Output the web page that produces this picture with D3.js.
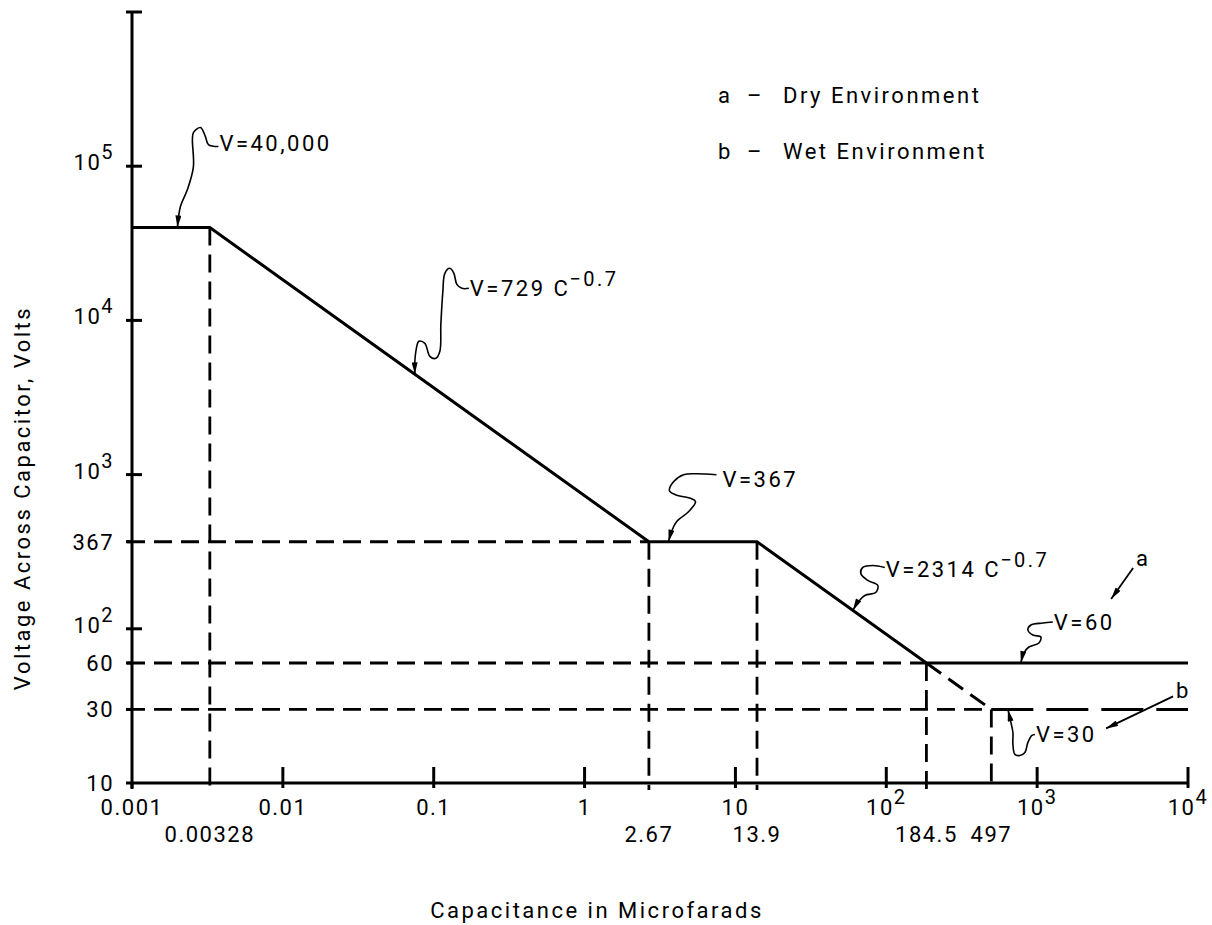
<!DOCTYPE html>
<html>
<head>
<meta charset="utf-8">
<script src="https://cdn.jsdelivr.net/npm/d3@7"></script>
<style>
  body { margin: 0; background: #fff; }
  text { font-family: Roboto, "Liberation Sans", sans-serif; font-weight: 400; fill: #000; letter-spacing: 2.5px; }
  .tick-label { letter-spacing: 1.5px; }
</style>
</head>
<body>
<div id="chart"></div>
<script>
// curve break points (capacitance in microfarads, voltage in volts)
var dryC = [0.001, 0.00328, 2.67, 13.9, 184.5, 10000];
var dryV = [40000, 40000, 367, 367, 60, 60];
var wetSlopeC = [184.5, 497];
var wetSlopeV = [60, 30];
var wetFlatC = [497, 10000];
var wetFlatV = [30, 30];

var breakC = [0.00328, 2.67, 13.9, 184.5, 497];
var breakV = [40000, 367, 367, 60, 30];
var breakLabels = ["0.00328", "2.67", "13.9", "184.5", "497"];

var levelV = [367, 60, 30];
var levelEndC = [2.67, 184.5, 497];
var levelLabels = ["367", "60", "30"];

var xDecades = [0.001, 0.01, 0.1, 1, 10, 100, 1000, 10000];
var xDecadeLabels = [["0.001"], ["0.01"], ["0.1"], ["1"], ["10"], ["10", "2"], ["10", "3"], ["10", "4"]];
var yDecades = [10, 100, 1000, 10000, 100000, 1000000];
var yDecadeLabels = [["10"], ["10", "2"], ["10", "3"], ["10", "4"], ["10", "5"], null];

var legendKeys = ["a", "b"];
var legendNames = ["Dry Environment", "Wet Environment"];

// leader notes: anchor point on the curve, text offset and squiggle offsets (px from anchor)
var notes = [
  { c: 0.002, v: 40000, text: "V=40,000", sup: null, tx: 42, ty: -77,
    path: [[41,-81],[31,-83],[28,-91],[23,-100],[16,-95],[15,-88],[16,-61],[10,-38],[3,-21],[0,0]] },
  { c: 0.075, v: 4470, text: "V=729 C", sup: "\u22120.7", tx: 55, ty: -78,
    path: [[54,-86],[47,-86],[42,-90],[39,-101],[35,-106],[30,-101],[28,-83],[26,-50],[25,-23],[21,-16],[15,-18],[10,-31],[4,-33],[1,-23],[0,-13],[0,0]] },
  { c: 3.6, v: 367, text: "V=367", sup: null, tx: 54, ty: -55,
    path: [[48,-67],[27,-68],[15,-67],[5,-60],[1,-51],[7,-47],[23,-43],[27,-40],[20,-30],[8,-20],[3,-10],[0,0]] },
  { c: 60, v: 131.5, text: "V=2314 C", sup: "\u22120.7", tx: 33, ty: -33,
    path: [[32,-43],[20,-45],[10,-43],[8,-37],[15,-30],[25,-25],[23,-18],[12,-15],[5,-8],[0,0]] },
  { c: 780, v: 60, text: "V=60", sup: null, tx: 33, ty: -33,
    path: [[32,-41],[22,-40],[10,-38],[7,-33],[12,-28],[20,-26],[18,-20],[8,-16],[3,-10],[0,0]] },
  { c: 640, v: 30, text: "V=30", sup: null, tx: 28, ty: 33,
    path: [[27,25],[24,26],[20,33],[17,43],[12,46],[7,45],[5,35],[5,23],[3,13],[0,0]] }
];
// straight arrows from the a / b letters
var keyArrows = [
  { c: 3000, v: 60, key: "a", tx: 27, ty: -97, path: [[24,-95],[2,-64]] },
  { c: 3000, v: 30, key: "b", tx: 67, ty: -11, path: [[64,-13],[-3,19]] }
];

var width = 1212, height = 925;

var svg = d3.select("#chart").append("svg")
  .attr("width", width)
  .attr("height", height);

svg.append("rect").attr("width", width).attr("height", height).attr("fill", "#fff");

var defs = svg.append("defs");
defs.append("marker")
  .attr("id", "arrow")
  .attr("viewBox", "0 0 12 6")
  .attr("refX", 12).attr("refY", 3)
  .attr("markerWidth", 13).attr("markerHeight", 6)
  .attr("markerUnits", "userSpaceOnUse")
  .attr("orient", "auto")
  .append("path").attr("d", "M0,0 L12,3 L0,6 Z").attr("fill", "#000");

var x = d3.scaleLog().domain([0.001, 10000]).range([132, 1188]);
var y = d3.scaleLog().domain([10, 1000000]).range([783, 12]);

var line = d3.line()
  .x(function(d) { return x(d[0]); })
  .y(function(d) { return y(d[1]); });

function pairs(cs, vs) {
  return cs.map(function(c, i) { return [c, vs[i]]; });
}

function addLabel(g, parts, px, py, anchor, size) {
  var t = g.append("text")
    .attr("class", "tick-label")
    .attr("x", px).attr("y", py)
    .attr("text-anchor", anchor)
    .style("font-size", size + "px");
  t.append("tspan").text(parts[0]);
  if (parts[1]) {
    t.append("tspan").attr("dy", -11).style("font-size", (size - 2) + "px").text(parts[1]);
  }
  return t;
}

// dashed guide lines
var guides = svg.append("g")
  .attr("stroke", "#000")
  .attr("stroke-width", 2.8)
  .attr("stroke-dasharray", "18,9")
  .attr("fill", "none");

guides.selectAll(".vguide")
  .data(breakC)
  .enter().append("line")
  .attr("class", "vguide")
  .attr("x1", function(d) { return x(d); })
  .attr("x2", function(d) { return x(d); })
  .attr("y1", function(d, i) { return y(breakV[i]); })
  .attr("y2", y(10) + 7);

guides.selectAll(".hguide")
  .data(levelV)
  .enter().append("line")
  .attr("class", "hguide")
  .attr("x1", x(0.001) - 5)
  .attr("x2", function(d, i) { return x(levelEndC[i]); })
  .attr("y1", function(d) { return y(d); })
  .attr("y2", function(d) { return y(d); });

// axes
var axes = svg.append("g").attr("stroke", "#000").attr("stroke-width", 3);

axes.append("line")
  .attr("x1", x(0.001)).attr("x2", x(0.001))
  .attr("y1", y(1000000)).attr("y2", y(10) + 6);
axes.append("line")
  .attr("x1", x(0.001)).attr("x2", x(10000))
  .attr("y1", y(10)).attr("y2", y(10));

axes.selectAll(".ytick")
  .data(yDecades)
  .enter().append("line")
  .attr("class", "ytick")
  .attr("x1", x(0.001) - 6)
  .attr("x2", function(d) { return d === 10 ? x(0.001) : x(0.001) + 10; })
  .attr("y1", function(d) { return y(d); })
  .attr("y2", function(d) { return y(d); });

axes.selectAll(".ltick")
  .data(levelV)
  .enter().append("line")
  .attr("class", "ltick")
  .attr("x1", x(0.001) - 6)
  .attr("x2", x(0.001))
  .attr("y1", function(d) { return y(d); })
  .attr("y2", function(d) { return y(d); });

axes.selectAll(".xtick")
  .data(xDecades)
  .enter().append("line")
  .attr("class", "xtick")
  .attr("x1", function(d) { return x(d); })
  .attr("x2", function(d) { return x(d); })
  .attr("y1", function(d) { return d === 0.001 ? y(10) : y(10) - 16; })
  .attr("y2", y(10) + 5);

// the curves
svg.append("path")
  .datum(pairs(dryC, dryV))
  .attr("d", line)
  .attr("fill", "none")
  .attr("stroke", "#000")
  .attr("stroke-width", 3)
  .attr("stroke-linejoin", "miter");

svg.append("path")
  .datum(pairs(wetSlopeC, wetSlopeV))
  .attr("d", line)
  .attr("fill", "none")
  .attr("stroke", "#000")
  .attr("stroke-width", 3)
  .attr("stroke-dasharray", "18,9");

svg.append("path")
  .datum(pairs(wetFlatC, wetFlatV))
  .attr("d", line)
  .attr("fill", "none")
  .attr("stroke", "#000")
  .attr("stroke-width", 3)
  .attr("stroke-dasharray", "42,13");

// tick labels
var labels = svg.append("g");

xDecades.forEach(function(d, i) {
  addLabel(labels, xDecadeLabels[i], x(d), 815, "middle", 22);
});
breakC.forEach(function(d, i) {
  addLabel(labels, [breakLabels[i]], x(d), 842, "middle", 22);
});
yDecades.forEach(function(d, i) {
  if (!yDecadeLabels[i]) return;
  var off = yDecadeLabels[i][1] ? 4 : 8;
  addLabel(labels, yDecadeLabels[i], 114, y(d) + off, "end", 22);
});
levelV.forEach(function(d, i) {
  addLabel(labels, [levelLabels[i]], 114, y(d) + 8, "end", 22);
});

// axis titles
svg.append("text")
  .attr("x", 597).attr("y", 918)
  .attr("text-anchor", "middle")
  .style("font-size", "22px")
  .text("Capacitance in Microfarads");

svg.append("text")
  .attr("transform", "translate(30,498) rotate(-90)")
  .attr("text-anchor", "middle")
  .style("font-size", "22px")
  .text("Voltage Across Capacitor, Volts");

// legend
legendKeys.forEach(function(k, i) {
  var ly = 103 + i * 56;
  svg.append("text").attr("x", 718).attr("y", ly).style("font-size", "22px").text(k);
  svg.append("text").attr("x", 747).attr("y", ly).style("font-size", "22px").text("\u2013");
  svg.append("text").attr("x", 783).attr("y", ly).style("font-size", "22px").text(legendNames[i]);
});

// leader notes
var leader = d3.line().curve(d3.curveCatmullRom.alpha(0.5));

notes.forEach(function(n) {
  var ax = x(n.c), ay = y(n.v);
  svg.append("path")
    .attr("d", leader(n.path.map(function(p) { return [ax + p[0], ay + p[1]]; })))
    .attr("fill", "none")
    .attr("stroke", "#000")
    .attr("stroke-width", 1.6)
    .attr("marker-end", "url(#arrow)");
  var t = svg.append("text")
    .attr("x", ax + n.tx).attr("y", ay + n.ty)
    .style("font-size", "22px");
  t.append("tspan").text(n.text);
  if (n.sup) {
    t.append("tspan").attr("dy", -10).attr("dx", -1).style("font-size", "20px").text(n.sup);
  }
});

keyArrows.forEach(function(k) {
  var ax = x(k.c), ay = y(k.v);
  svg.append("path")
    .attr("d", d3.line()(k.path.map(function(p) { return [ax + p[0], ay + p[1]]; })))
    .attr("fill", "none")
    .attr("stroke", "#000")
    .attr("stroke-width", 1.8)
    .attr("marker-end", "url(#arrow)");
  svg.append("text")
    .attr("x", ax + k.tx).attr("y", ay + k.ty)
    .style("font-size", "22px")
    .text(k.key);
});
</script>
</body>
</html>
